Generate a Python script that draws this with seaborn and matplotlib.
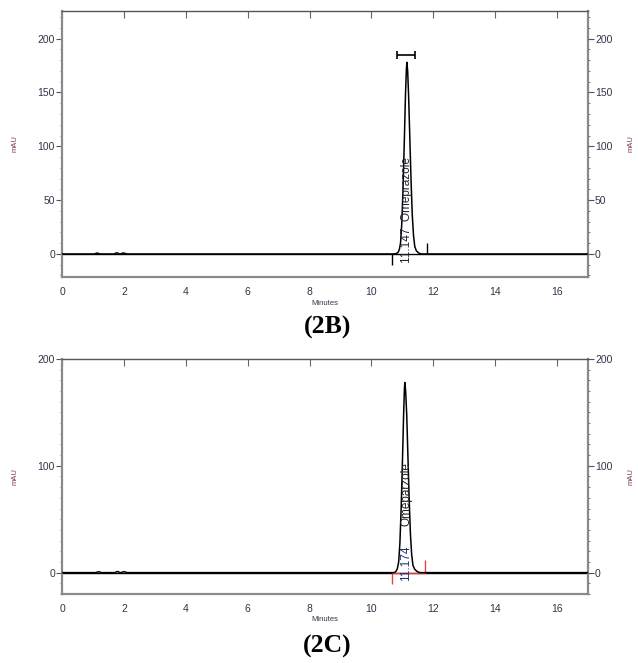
""" HPLC chromatograms (2B) and (2C) """

import numpy as np
import pandas as pd
import matplotlib
matplotlib.use("Agg")
import matplotlib.pyplot as plt
from matplotlib.ticker import MultipleLocator
import seaborn as sns

# ---- data ----
# (2B) trace
time_b = [0, 1.05, 1.12, 1.17, 1.22, 1.70, 1.75, 1.80, 1.85, 1.90, 1.96, 2.02, 2.10,
          10.70, 10.80, 10.86, 10.90, 10.94, 10.98, 11.02, 11.06, 11.10, 11.13, 11.147,
          11.17, 11.20, 11.24, 11.28, 11.32, 11.36, 11.40, 11.45, 11.52, 11.60, 17.0]
mau_b = [0, 0, 0.8, 0.6, 0, 0, 1.0, 0.9, 0, 0, 0.9, 0.7, 0,
         0, 0.3, 1.5, 4, 10, 28, 60, 102, 148, 172, 178,
         170, 148, 108, 68, 36, 17, 7, 3, 1, 0, 0]

# (2C) trace
time_c = [0, 1.10, 1.17, 1.22, 1.27, 1.72, 1.77, 1.82, 1.86, 1.92, 1.98, 2.03, 2.10,
          10.70, 10.76, 10.80, 10.84, 10.88, 10.92, 10.96, 11.00, 11.04, 11.065, 11.08,
          11.105, 11.14, 11.18, 11.22, 11.26, 11.30, 11.34, 11.40, 11.48, 11.56, 17.0]
mau_c = [0, 0, 0.8, 0.6, 0, 0, 1.0, 0.9, 0, 0, 0.9, 0.7, 0,
         0, 0.3, 1.5, 4, 10, 28, 60, 102, 148, 172, 178,
         170, 148, 108, 68, 36, 17, 7, 3, 1, 0, 0]

# integration marks (start, end) and retention labels
marks_b = [10.66, 11.81]
marks_c = [10.66, 11.73]
bracket_b = [10.84, 11.42]
rt_b = 11.147
rt_c = 11.08

sns.set_style("white")
plt.rcParams['font.family'] = ['Liberation Sans', 'DejaVu Sans']

tick_col = "#33334a"
mau_col = "#7a3a4a"
spine_col = "#8a8a8a"

fig = plt.figure(figsize=(6.38, 6.63), dpi=100)
ax_b = fig.add_axes([0.0972, 0.5822, 0.8245, 0.4012])
ax_c = fig.add_axes([0.0972, 0.1041, 0.8245, 0.3544])


def style_panel(ax, ylim, ymajor):
    """Common axis dressing for one chromatogram panel"""
    ax.set_xlim(0, 17)
    ax.set_ylim(*ylim)
    ax.xaxis.set_major_locator(MultipleLocator(2))
    ax.xaxis.set_minor_locator(MultipleLocator(0.2))
    ax.yaxis.set_major_locator(MultipleLocator(ymajor))
    ax.yaxis.set_minor_locator(MultipleLocator(10))
    ax.tick_params(axis="x", which="major", direction="in", length=5, width=0.8,
                   color="#666666", labelsize=7.5, labelcolor=tick_col, pad=7, top=True)
    ax.tick_params(axis="x", which="minor", direction="in", length=3, width=0.8,
                   color="#444444")
    ax.tick_params(axis="y", which="major", direction="out", length=4, width=0.8,
                   color="#555555", labelsize=7.5, labelcolor=tick_col, pad=1)
    ax.tick_params(axis="y", which="minor", direction="out", length=1.5, width=0.7,
                   color="#777777")
    for s in ["left", "bottom", "right"]:
        ax.spines[s].set_color(spine_col)
        ax.spines[s].set_linewidth(1.6)
    ax.spines["top"].set_color("#555555")
    ax.spines["top"].set_linewidth(1.0)
    ax.set_xlabel("Minutes", fontsize=5.5, color="#333344", labelpad=2)
    ax.set_ylabel("mAU", fontsize=5.5, color=mau_col, labelpad=14)
    ax.axhline(0, color="black", lw=1.0, zorder=1)

    # twin axis on the right with the same scale
    rx = ax.twinx()
    rx.set_ylim(*ylim)
    rx.yaxis.set_major_locator(MultipleLocator(ymajor))
    rx.yaxis.set_minor_locator(MultipleLocator(10))
    rx.tick_params(axis="y", which="major", direction="out", length=4, width=0.8,
                   color="#555555", labelsize=7.5, labelcolor=tick_col, pad=1)
    rx.tick_params(axis="y", which="minor", direction="out", length=1.5, width=0.7,
                   color="#777777")
    for s in rx.spines:
        rx.spines[s].set_visible(False)
    rx.set_ylabel("mAU", fontsize=5.5, color=mau_col, labelpad=11)
    return rx


# ---- (2B) ----
style_panel(ax_b, (-21.4, 225.7), 50)
sns.lineplot(x=time_b, y=mau_b, ax=ax_b, color="black", lw=1.1, zorder=3)
ax_b.vlines(marks_b[0], -10, 0, color="black", lw=1.0)
ax_b.vlines(marks_b[1], 0, 10, color="black", lw=1.0)
ax_b.hlines(185, bracket_b[0], bracket_b[1], color="black", lw=1.2)
ax_b.vlines(bracket_b, 181, 189, color="black", lw=1.2)
ax_b.text(rt_b, 40.5, "11.147  Omeprazole", rotation=90, ha="center", va="center",
          fontsize=8.5, color="#222233")

# ---- (2C) ----
style_panel(ax_c, (-20, 200), 100)
ax_c.hlines(0, marks_c[0], marks_c[1], color="#e8404a", lw=1.0, zorder=2)
sns.lineplot(x=time_c, y=mau_c, ax=ax_c, color="black", lw=1.1, zorder=3)
ax_c.vlines(marks_c[0], -10.5, 0, color="#e8404a", lw=1.0)
ax_c.vlines(marks_c[1], 0, 12, color="#e8404a", lw=1.0)
ax_c.text(rt_c + 0.04, 8.5, "11.174", rotation=90, ha="center", va="center",
          fontsize=8.5, color="#1f2f6f")
ax_c.text(rt_c + 0.04, 73.5, "Omeparzole", rotation=90, ha="center", va="center",
          fontsize=8.5, color="#222222")

# panel captions
fig.text(0.513, 1 - 327 / 663, "(2B)", ha="center", va="center", fontsize=18.5,
         fontweight="bold", family="Liberation Serif", color="black")
fig.text(0.513, 1 - 646 / 663, "(2C)", ha="center", va="center", fontsize=18.5,
         fontweight="bold", family="Liberation Serif", color="black")

fig.savefig("out.png", dpi=100)
